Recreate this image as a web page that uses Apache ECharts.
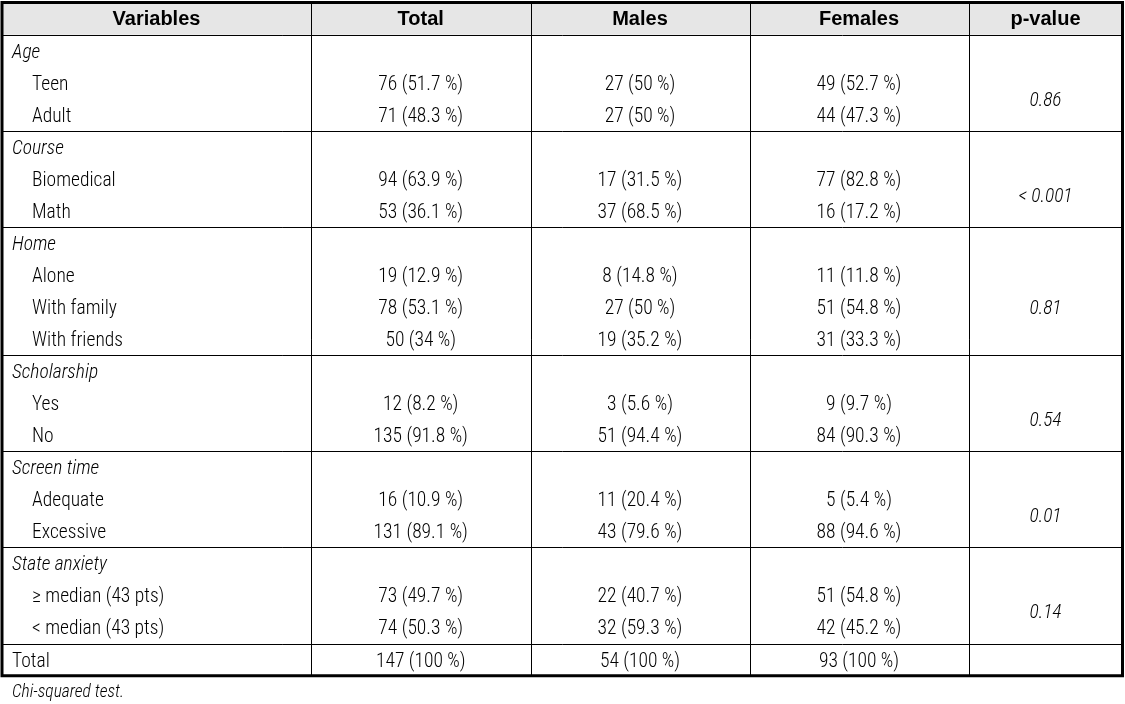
<!DOCTYPE html>
<html><head><meta charset="utf-8">
<script src="https://cdn.jsdelivr.net/npm/echarts@6/dist/echarts.min.js"></script>
<style>html,body{margin:0;padding:0;background:#fff}#c{width:1125px;height:704px}</style>
</head><body><div id="c"></div>
<script>
// ---- data ----
const columns = ['Variables', 'Total', 'Males', 'Females', 'p-value'];
const groups = ['Age', 'Course', 'Home', 'Scholarship', 'Screen time', 'State anxiety'];
const levels = [
  ['Teen', 'Adult'],
  ['Biomedical', 'Math'],
  ['Alone', 'With family', 'With friends'],
  ['Yes', 'No'],
  ['Adequate', 'Excessive'],
  ['\u2265 median (43 pts)', '< median (43 pts)']
];
const totalN   = [[76, 71], [94, 53], [19, 78, 50], [12, 135], [16, 131], [73, 74]];
const totalPct = [[51.7, 48.3], [63.9, 36.1], [12.9, 53.1, 34], [8.2, 91.8], [10.9, 89.1], [49.7, 50.3]];
const malesN   = [[27, 27], [17, 37], [8, 27, 19], [3, 51], [11, 43], [22, 32]];
const malesPct = [[50, 50], [31.5, 68.5], [14.8, 50, 35.2], [5.6, 94.4], [20.4, 79.6], [40.7, 59.3]];
const femalesN   = [[49, 44], [77, 16], [11, 51, 31], [9, 84], [5, 88], [51, 42]];
const femalesPct = [[52.7, 47.3], [82.8, 17.2], [11.8, 54.8, 33.3], [9.7, 90.3], [5.4, 94.6], [54.8, 45.2]];
const pValues = ['0.86', '< 0.001', '0.81', '0.54', '0.01', '0.14'];
const totalLabel = 'Total';
const grandN = [147, 54, 93];
const grandPct = [100, 100, 100];
const footnote = 'Chi-squared test.';

// ---- layout ----
const colEdges = [2, 311, 530.5, 749.5, 968.5, 1122.5];
const FONT = "'Liberation Sans Narrow','Roboto Condensed','DejaVu Sans Condensed',sans-serif";
const HFONT = "'Liberation Sans','Arial',sans-serif";
const fmt = (n, p) => n + ' (' + p + ' %)';

const texts = [];   // {x, y, text, align, header, italic}
const lines = [];   // [x1, y1, x2, y2, width]
function colMid(c) { return (colEdges[c] + colEdges[c + 1]) / 2; }

columns.forEach((c, i) => texts.push({ x: colMid(i), y: 0.5, text: c, align: 'center', header: true }));
let row = 1;
const hBreaks = [1];
groups.forEach((g, gi) => {
  texts.push({ x: colEdges[0] + 10, y: row + 0.5, text: g, align: 'left', italic: true });
  const start = row + 1;
  levels[gi].forEach((lv, li) => {
    const r = start + li;
    texts.push({ x: colEdges[0] + 30, y: r + 0.5, text: lv, align: 'left' });
    texts.push({ x: colMid(1), y: r + 0.5, text: fmt(totalN[gi][li], totalPct[gi][li]), align: 'center' });
    texts.push({ x: colMid(2), y: r + 0.5, text: fmt(malesN[gi][li], malesPct[gi][li]), align: 'center' });
    texts.push({ x: colMid(3), y: r + 0.5, text: fmt(femalesN[gi][li], femalesPct[gi][li]), align: 'center' });
  });
  const end = start + levels[gi].length;
  texts.push({ x: colMid(4), y: (start + end) / 2, text: pValues[gi], align: 'center', italic: true });
  row = end;
  hBreaks.push(row);
});
texts.push({ x: colEdges[0] + 10, y: row + 0.5, text: totalLabel, align: 'left' });
[0, 1, 2].forEach(i => texts.push({ x: colMid(i + 1), y: row + 0.5, text: fmt(grandN[i], grandPct[i]), align: 'center' }));
const nRows = row + 1;

hBreaks.forEach(r => lines.push([colEdges[0], r, colEdges[5], r, 1]));
for (let c = 1; c < 5; c++) lines.push([colEdges[c], 0, colEdges[c], nRows, 1]);

const chart = echarts.init(document.getElementById('c'), null, { renderer: 'canvas' });
chart.setOption({
  backgroundColor: '#fff',
  animation: false,
  grid: { left: 0, right: 0, top: 2.6, bottom: 704 - 2.6 - 32.05 * 21, containLabel: false },
  xAxis: { type: 'value', min: 0, max: 1125, show: false },
  yAxis: { type: 'value', min: 0, max: nRows, inverse: true, show: false },
  series: [
    { // header band
      type: 'custom', silent: true, z: 1,
      data: [[colEdges[0], 0, colEdges[5], 1]],
      renderItem: (p, api) => {
        const a = api.coord([api.value(0), api.value(1)]);
        const b = api.coord([api.value(2), api.value(3)]);
        return { type: 'rect', shape: { x: a[0], y: a[1], width: b[0] - a[0], height: b[1] - a[1] }, style: { fill: '#e6e6e6' } };
      }
    },
    { // grid lines
      type: 'custom', silent: true, z: 2,
      data: lines,
      renderItem: (p, api) => {
        const a = api.coord([api.value(0), api.value(1)]);
        const b = api.coord([api.value(2), api.value(3)]);
        const w = api.value(4);
        const snap = v => Math.round(v) + 0.5;
        const vert = a[0] === b[0];
        return { type: 'line', shape: { x1: vert ? snap(a[0]) : a[0], y1: vert ? a[1] : snap(a[1]), x2: vert ? snap(b[0]) : b[0], y2: vert ? b[1] : snap(b[1]) }, style: { stroke: '#000', lineWidth: w } };
      }
    },
    { // outer border
      type: 'custom', silent: true, z: 3,
      data: [[colEdges[0], 0, colEdges[5], nRows]],
      renderItem: (p, api) => {
        const a = api.coord([api.value(0), api.value(1)]);
        const b = api.coord([api.value(2), api.value(3)]);
        return { type: 'rect', shape: { x: a[0], y: a[1], width: b[0] - a[0], height: b[1] - a[1] }, style: { fill: 'none', stroke: '#000', lineWidth: 3 } };
      }
    },
    { // texts
      type: 'custom', silent: true, z: 4,
      data: texts.map(t => [t.x, t.y]),
      renderItem: (p, api) => {
        const t = texts[p.dataIndex];
        const pt = api.coord([api.value(0), api.value(1)]);
        return {
          type: 'text', x: pt[0], y: pt[1] + (t.header ? 1 : 2),
          style: {
            text: t.text, textAlign: t.align, textVerticalAlign: 'middle',
            fill: '#000',
            font: (t.italic ? 'italic ' : '') + (t.header ? 'bold 20px ' + HFONT : '300 19.5px ' + FONT)
          }
        };
      }
    }
  ],
  graphic: [{
    type: 'text', left: 12, top: 684,
    style: { text: footnote, fill: '#000', font: 'italic 300 17.5px ' + FONT }
  }]
});
</script></body></html>
